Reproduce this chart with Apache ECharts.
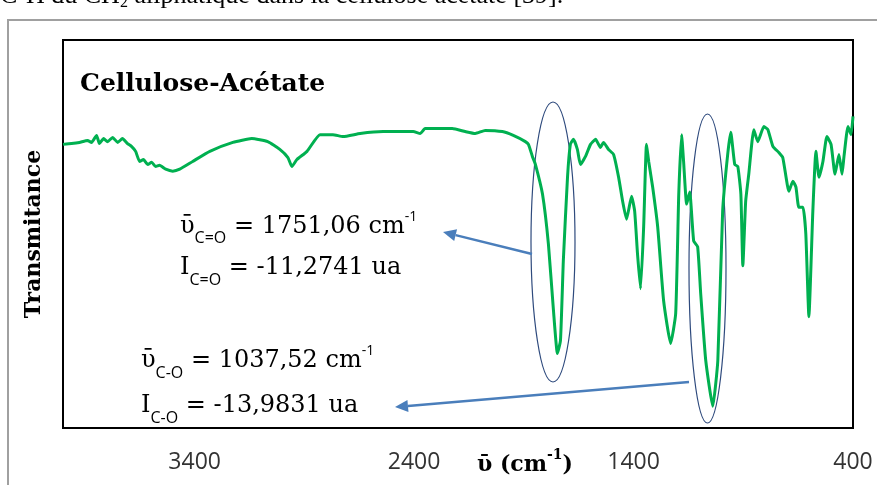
<!DOCTYPE html>
<html>
<head>
<meta charset="utf-8">
<script src="https://cdn.jsdelivr.net/npm/echarts@6/dist/echarts.min.js"></script>
<style>
  html, body { margin: 0; padding: 0; background: #fff; }
  #echarts-main { width: 877px; height: 485px; }
</style>
</head>
<body>
<div id="echarts-main"></div>
<script>
// spectre IR, nombre d'onde (cm-1) et transmittance
var waveNumbers = [4000, 3961, 3925, 3888, 3870, 3847, 3834, 3815, 3797, 3774, 3751, 3729, 3706, 3688, 3669,
  3651, 3633, 3614, 3596, 3578, 3560, 3532, 3500, 3468, 3409, 3331, 3226, 3140, 3067, 3012, 2975, 2957, 2934,
  2888, 2829, 2770, 2724, 2646, 2541, 2404, 2372, 2350, 2295, 2226, 2167, 2121, 2076, 1998, 1948, 1893, 1879,
  1861, 1847, 1815, 1788, 1765, 1747, 1733, 1720, 1701, 1688, 1674, 1656, 1642, 1619, 1596, 1573, 1551, 1537,
  1514, 1491, 1468, 1450, 1432, 1409, 1395, 1382, 1368, 1354, 1341, 1331, 1313, 1290, 1263, 1231, 1208, 1194,
  1181, 1172, 1158, 1144, 1126, 1108, 1094, 1071, 1039, 1016, 994, 971, 957, 939, 925, 911, 902, 889, 875,
  852, 834, 806, 788, 765, 738, 720, 692, 674, 660, 647, 628, 615, 601, 583, 569, 555, 537, 519, 500, 482,
  464, 450, 441, 423, 409, 400];
var transmittance = [73.1, 73.3, 73.6, 74.1, 73.6, 75.4, 73.3, 74.6, 73.8, 74.9, 73.6, 74.6, 73.3, 72.6, 71.3,
  68.7, 69.2, 67.9, 68.5, 67.4, 67.7, 66.7, 66.2, 66.7, 68.7, 71.3, 73.6, 74.6, 73.8, 71.8, 69.7, 67.4, 69.2,
  71.3, 75.6, 75.6, 75.1, 75.9, 76.4, 76.4, 75.9, 77.2, 77.2, 77.2, 76.4, 75.9, 76.7, 76.4, 75.4, 73.8, 73.1,
  70.0, 67.9, 60.3, 47.4, 30.3, 19.2, 22.6, 43.1, 64.6, 73.1, 74.4, 71.8, 67.9, 70.0, 73.1, 74.4, 72.3, 73.6,
  71.8, 70.5, 64.6, 58.5, 53.8, 59.7, 55.9, 44.9, 35.9, 51.8, 73.1, 68.7, 62.1, 51.8, 32.8, 21.8, 29.5, 60.3,
  75.6, 68.7, 57.7, 60.8, 48.2, 46.7, 34.6, 17.4, 5.6, 17.4, 55.9, 70.5, 76.2, 67.9, 67.4, 60.3, 41.8, 58.5, 65.4,
  76.9, 73.8, 77.7, 76.9, 72.6, 71.0, 69.7, 61.0, 63.6, 62.1, 56.9, 56.9, 50.0, 28.7, 55.9, 71.3, 64.6, 68.7, 75.1, 73.1, 65.4,
  70.5, 65.4, 70.0, 77.7, 75.6, 80.3];
var xTickLabels = [400, 1400, 2400, 3400];

var serif = "'DejaVu Serif', 'Liberation Serif', serif";
var sans = "'Open Sans', 'Liberation Sans', sans-serif";
var times = "'Liberation Serif', 'DejaVu Serif', serif";

// mesure du texte pour enchainer les morceaux (indices, exposants)
var mctx = document.createElement('canvas').getContext('2d');
function runs(x, base, segs) {
    var out = [];
    segs.forEach(function (s) {
        var weight = s.bold ? 'bold' : 'normal';
        mctx.font = weight + ' ' + s.size + 'px ' + s.family;
        out.push({
            type: 'text', silent: true,
            style: {
                text: s.t, x: x, y: base + (s.dy || 0) - 0.3 * s.size,
                fontSize: s.size, fontFamily: s.family, fontWeight: weight,
                fill: '#000', align: 'left', verticalAlign: 'middle'
            }
        });
        x += mctx.measureText(s.t).width;
    });
    return out;
}

function arrow(x1, y1, x2, y2) {
    var dx = x2 - x1, dy = y2 - y1, len = Math.sqrt(dx * dx + dy * dy);
    var ux = dx / len, uy = dy / len, hl = 13, hw = 6;
    var bx = x2 - ux * hl, by = y2 - uy * hl;
    return [
        { type: 'line', silent: true, shape: { x1: x1, y1: y1, x2: bx, y2: by },
          style: { stroke: '#4a7ebb', lineWidth: 2.5 } },
        { type: 'polygon', silent: true,
          shape: { points: [[x2, y2], [bx - uy * hw, by + ux * hw], [bx + uy * hw, by - ux * hw]] },
          style: { fill: '#4a7ebb' } }
    ];
}

var points = waveNumbers.map(function (w, i) { return [w, transmittance[i]]; });

var graphics = [].concat(
    [{ type: 'rect', silent: true, shape: { x: 8, y: 20, width: 900, height: 500 },
       style: { fill: 'none', stroke: '#a0a0a0', lineWidth: 2 } }],
    runs(0, 4, [
        { t: 'C-H du CH', size: 26, family: times },
        { t: '2', size: 16, family: times, dy: 4 },
        { t: ' aliphatique dans la cellulose acétate [39].', size: 26, family: times }
    ]),
    runs(80, 92, [{ t: 'Cellulose-Acétate', size: 25, family: serif, bold: true }]),
    runs(180, 234, [
        { t: 'ῡ', size: 24, family: serif },
        { t: 'C=O', size: 16, family: sans, dy: 9 },
        { t: ' = 1751,06 cm', size: 24, family: serif },
        { t: '-1', size: 14, family: sans, dy: -13 }
    ]),
    runs(180, 275, [
        { t: 'I', size: 24, family: serif },
        { t: 'C=O', size: 16, family: sans, dy: 10 },
        { t: ' = -11,2741 ua', size: 24, family: serif }
    ]),
    runs(141, 368, [
        { t: 'ῡ', size: 24, family: serif },
        { t: 'C-O', size: 16, family: sans, dy: 10 },
        { t: ' = 1037,52 cm', size: 24, family: serif },
        { t: '-1', size: 14, family: sans, dy: -13 }
    ]),
    runs(141, 413, [
        { t: 'I', size: 24, family: serif },
        { t: 'C-O', size: 16, family: sans, dy: 10 },
        { t: ' = -13,9831 ua', size: 24, family: serif }
    ]),
    runs(477, 472, [
        { t: 'ῡ (cm', size: 22, family: serif, bold: true },
        { t: '-1', size: 14, family: serif, bold: true, dy: -12 },
        { t: ')', size: 22, family: serif, bold: true }
    ]),
    [
        { type: 'ellipse', silent: true, shape: { cx: 553, cy: 242, rx: 22, ry: 140 },
          style: { fill: 'none', stroke: '#2e4a7d', lineWidth: 1.2 } },
        { type: 'ellipse', silent: true, shape: { cx: 707.5, cy: 268.5, rx: 18.5, ry: 154.5 },
          style: { fill: 'none', stroke: '#2e4a7d', lineWidth: 1.2 } }
    ],
    arrow(532, 254, 443, 232),
    arrow(689, 382, 395, 407)
);

var myChart = echarts.init(document.getElementById('echarts-main'));
var option = {
    animation: false,
    grid: { left: 63, right: 24, top: 40, bottom: 57, show: true, borderColor: '#000', borderWidth: 2 },
    xAxis: {
        type: 'value', inverse: true, min: 400, max: 4000,
        axisLine: { show: true, lineStyle: { color: '#000', width: 2 } },
        axisTick: { show: false },
        splitLine: { show: false },
        axisLabel: {
            customValues: xTickLabels, margin: 23,
            color: '#333', fontSize: 23, fontFamily: sans,
            formatter: function (v) { return String(v); }
        }
    },
    yAxis: {
        type: 'value', min: 0, max: 100,
        axisLine: { show: true, lineStyle: { color: '#000', width: 2 } },
        axisTick: { show: false },
        axisLabel: { show: false },
        splitLine: { show: false },
        name: 'Transmitance', nameLocation: 'middle', nameGap: 18,
        nameTextStyle: { color: '#000', fontSize: 22, fontWeight: 'bold', fontFamily: serif }
    },
    series: [{
        type: 'line',
        data: points,
        showSymbol: false,
        smooth: 0.15,
        lineStyle: { color: '#00b050', width: 3 },
        z: 3
    }],
    graphic: graphics
};
myChart.setOption(option);
</script>
</body>
</html>
